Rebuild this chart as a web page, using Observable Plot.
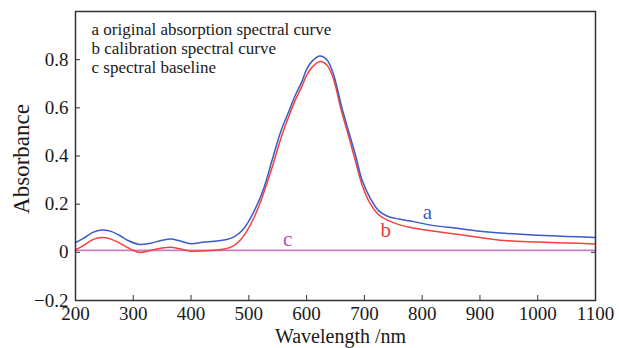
<!DOCTYPE html>
<html><head><meta charset="utf-8">
<script src="https://cdn.jsdelivr.net/npm/d3@7"></script>
<script src="https://cdn.jsdelivr.net/npm/@observablehq/plot@0.6"></script>
<style>
body{margin:0;background:#fff}
svg text, svg tspan { font-family: "Liberation Serif", "DejaVu Serif", "Times New Roman", serif !important; }
</style>
</head><body><div id="chart"></div>
<script>
// Curve a: original absorption spectral curve
const wavelengthA = [200,215,230,245,260,275,290,310,330,350,365,380,400,420,440,460,475,490,500,510,525,540,555,570,580,592,600,610,623,635,645,650,660,673,685,696,710,725,740,760,780,815,860,900,935,1000,1050,1100];
const absorbA =     [0.040,0.060,0.083,0.093,0.088,0.072,0.050,0.033,0.038,0.050,0.055,0.048,0.036,0.042,0.046,0.052,0.065,0.095,0.130,0.175,0.260,0.380,0.500,0.590,0.650,0.710,0.760,0.795,0.815,0.800,0.750,0.711,0.610,0.500,0.400,0.300,0.225,0.172,0.150,0.138,0.130,0.113,0.100,0.088,0.080,0.071,0.066,0.062];
// Curve b: calibration spectral curve
const wavelengthB = [200,215,230,246,260,275,290,310,330,350,365,380,400,420,445,460,474,485,497,510,523,540,555,570,580,592,600,610,623,635,645,650,660,673,685,696,710,725,740,760,780,815,860,900,935,1000,1050,1100];
const absorbB =     [0.010,0.030,0.053,0.062,0.056,0.040,0.020,0.000,0.008,0.018,0.021,0.015,0.005,0.006,0.010,0.015,0.028,0.050,0.090,0.150,0.228,0.350,0.470,0.570,0.630,0.690,0.735,0.770,0.792,0.778,0.730,0.690,0.590,0.480,0.375,0.280,0.203,0.155,0.134,0.115,0.103,0.090,0.075,0.062,0.050,0.043,0.039,0.035];
// Curve c: spectral baseline
const wavelengthC = [200, 1100];
const absorbC = [0.008, 0.008];

const xTicks = [200,300,400,500,600,700,800,900,1000,1100];
const yTicks = [-0.2,0,0.2,0.4,0.6,0.8];
const xTitle = "Wavelength /nm";
const yTitle = "Absorbance";
const legendLines = ["a original absorption spectral curve","b calibration spectral curve","c spectral baseline"];
const curveNames = ["a","b","c"];
const curveLabelX = [809, 737, 567];
const curveLabelY = [0.168, 0.090, 0.053];
const curveColors = ["#3b5bc6","#f23a3a","#b94db5"];

const toRows = (xs, ys) => xs.map((x, i) => ({x, y: ys[i]}));
const rowsA = toRows(wavelengthA, absorbA);
const rowsB = toRows(wavelengthB, absorbB);
const rowsC = toRows(wavelengthC, absorbC);
const labelRows = curveNames.map((t, i) => ({t, x: curveLabelX[i], y: curveLabelY[i], c: curveColors[i]}));
const fmtY = d => d === 0 ? "0" : d3.format(".1f")(d);
const fmtX = d3.format("d");

const chart = Plot.plot({
  width: 619, height: 348,
  marginLeft: 75, marginRight: 24, marginTop: 11, marginBottom: 48,
  style: {fontSize: "19px", color: "#1a1a1a", background: "#fff"},
  x: {domain: [200, 1100]},
  y: {domain: [-0.2, 1.0]},
  marks: [
    Plot.line(rowsC, {x: "x", y: "y", stroke: "#c77fc4", strokeWidth: 1.6}),
    Plot.line(rowsB, {x: "x", y: "y", stroke: "#f5403f", strokeWidth: 1.5, curve: "catmull-rom"}),
    Plot.line(rowsA, {x: "x", y: "y", stroke: "#3b5bc6", strokeWidth: 1.5, curve: "catmull-rom"}),
    Plot.text(labelRows, {x: "x", y: "y", text: "t", fill: "c", fontSize: 21}),
    Plot.text([legendLines.join("\n")], {frameAnchor: "top-left", dx: 16, dy: 10, lineAnchor: "top", text: d => d, fontSize: 17, lineHeight: 1.12, fill: "#1a1a1a"}),
    Plot.frame({stroke: "#333", strokeWidth: 1.5}),
    Plot.axisX({ticks: xTicks, tickSize: -5, tickFormat: () => "", label: null, stroke: "#333"}),
    Plot.axisX({ticks: xTicks, tickSize: 0, tickPadding: 6, tickFormat: fmtX, label: null, fontSize: 19}),
    Plot.axisY({ticks: yTicks, tickSize: -5, tickFormat: () => "", label: null, stroke: "#333"}),
    Plot.axisY({ticks: yTicks, tickSize: 0, tickPadding: 7, tickFormat: fmtY, label: null, fontSize: 19}),
    Plot.axisY({anchor: "right", ticks: [0], tickSize: -5, tickFormat: () => "", label: null, stroke: "#333"}),
    Plot.text([xTitle], {frameAnchor: "bottom", dy: 42, dx: 5, lineAnchor: "bottom", text: d => d, fontSize: 20}),
    Plot.text([yTitle], {frameAnchor: "left", dx: -63, dy: 3, lineAnchor: "top", textAnchor: "middle", rotate: -90, text: d => d, fontSize: 23})
  ]
});
document.getElementById("chart").appendChild(chart);
</script>
</body></html>
